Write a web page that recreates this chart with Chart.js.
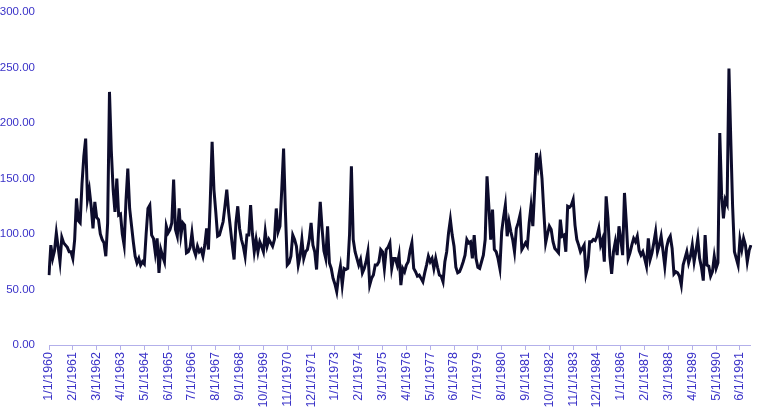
<!DOCTYPE html>
<html>
<head>
<meta charset="utf-8">
<script src="https://cdn.jsdelivr.net/npm/chart.js@4"></script>
<style>
  body { margin: 0; background: #fff; }
  #chartContainer { width: 757px; height: 414px; }
</style>
</head>
<body>
<div id="chartContainer"><canvas id="chart"></canvas></div>
<script>
// monthly series, 1/1/1960 .. 12/1/1991
const firstYear = 1960;
const lastYear = 1991;
const labelEvery = 13; // one date label every 13 months
const yTicks = [0, 50, 100, 150, 200, 250, 300];

const values1960s = [
  63, 90, 78, 85, 101, 88, 75, 97, 92, 90, 88, 84,
  84, 78, 95, 132, 112, 110, 145, 170, 186, 131, 140, 125,
  105, 129, 115, 113, 100, 95, 92, 80, 110, 228, 175, 140,
  120, 150, 117, 118, 100, 90, 130, 159, 123, 108, 93, 80,
  74, 78, 72, 75, 73, 100, 123, 126, 99, 96, 83, 96,
  65, 86, 80, 75, 107, 101, 104, 110, 149, 104, 98, 123,
  99, 110, 108, 83, 84, 88, 101, 86, 81, 89, 84, 86,
  80, 90, 105, 86, 130, 183, 140, 120, 98, 99, 105, 111,
  125, 140, 120, 105, 90, 77, 110, 125, 105, 95, 89, 80,
  99, 99, 126, 100, 84, 95, 84, 93, 89, 84, 102, 89
];
const values1970s = [
  95, 92, 89, 95, 123, 102, 107, 140, 177, 120, 72, 74,
  80, 99, 95, 89, 72, 80, 95, 78, 84, 86, 95, 110,
  90, 84, 68, 100, 129, 105, 85, 78, 107, 74, 69, 60,
  55, 48, 62, 71, 54, 69, 68, 69, 100, 161, 95, 84,
  78, 72, 77, 65, 69, 75, 84, 54, 60, 63, 72, 72,
  75, 86, 84, 69, 86, 88, 92, 69, 78, 78, 72, 81,
  54, 69, 66, 72, 75, 85, 92, 69, 66, 62, 63, 60,
  57, 65, 72, 80, 75, 78, 69, 78, 70, 63, 62, 57,
  75, 84, 101, 113, 99, 89, 70, 65, 66, 70, 75, 81,
  95, 92, 93, 78, 99, 78, 70, 69, 75, 81, 95, 152
];
const values1980s = [
  125, 95, 122, 86, 84, 78, 69, 102, 115, 126, 98, 111,
  102, 95, 84, 105, 110, 117, 86, 89, 92, 89, 110, 125,
  107, 140, 173, 160, 168, 150, 120, 92, 100, 107, 104, 93,
  87, 85, 83, 113, 98, 99, 84, 125, 124, 126, 131, 108,
  95, 90, 84, 87, 90, 64, 71, 93, 93, 95, 94, 98,
  105, 90, 95, 75, 134, 114, 80, 64, 84, 93, 81, 107,
  95, 81, 137, 110, 78, 83, 90, 96, 93, 98, 85, 81,
  84, 78, 71, 96, 77, 83, 92, 102, 84, 90, 98, 85,
  71, 88, 95, 98, 87, 64, 66, 65, 62, 54, 72, 78,
  84, 74, 80, 90, 75, 85, 96, 78, 70, 58, 99, 72
];
const values1990s = [
  71, 62, 66, 80, 69, 74, 191, 135, 114, 131, 127, 249,
  185, 125, 84, 78, 72, 95, 86, 96, 90, 75, 85, 90
];

const values = values1960s.concat(values1970s, values1980s, values1990s);

const labels = [];
for (let y = firstYear; y <= lastYear; y++) {
  for (let m = 1; m <= 12; m++) {
    labels.push(m + '/1/' + y);
  }
}

const labelColor = '#3a32c8';
const axisColor = '#b3b0ea';

const ctx = document.querySelector('#chart');

const newChart = new Chart(ctx, {
  type: 'line',
  data: {
    labels: labels,
    datasets: [{
      data: values,
      borderColor: '#0d0c2c',
      borderWidth: 3,
      pointRadius: 0,
      tension: 0,
      fill: false
    }]
  },
  options: {
    responsive: true,
    maintainAspectRatio: false,
    animation: false,
    layout: {
      padding: { top: 0, right: 4, bottom: 0, left: 0 }
    },
    plugins: {
      legend: { display: false },
      tooltip: { enabled: false }
    },
    scales: {
      x: {
        offset: false,
        afterBuildTicks: (scale) => {
          scale.ticks = scale.ticks.filter(t => t.value % labelEvery === 0);
        },
        afterFit: (scale) => { scale.height = 69; },
        grid: {
          display: true,
          drawOnChartArea: false,
          drawTicks: true,
          tickLength: 5,
          color: axisColor
        },
        border: { display: true, color: axisColor, width: 1 },
        ticks: {
          autoSkip: false,
          minRotation: 90,
          maxRotation: 90,
          padding: 2,
          color: labelColor,
          font: { family: 'Liberation Sans', size: 12.5 }
        }
      },
      y: {
        min: 0,
        max: 300,
        afterBuildTicks: (scale) => {
          scale.ticks = yTicks.map(v => ({ value: v }));
        },
        afterFit: (scale) => {
          scale.width = 49;
          scale.paddingTop = 12;
          scale.paddingBottom = 0;
        },
        grid: { display: false, drawTicks: false },
        border: { display: false },
        ticks: {
          padding: 14,
          color: labelColor,
          font: { family: 'Liberation Sans', size: 11.5 },
          callback: (v) => Number(v).toFixed(2)
        }
      }
    }
  }
});
</script>
</body>
</html>
